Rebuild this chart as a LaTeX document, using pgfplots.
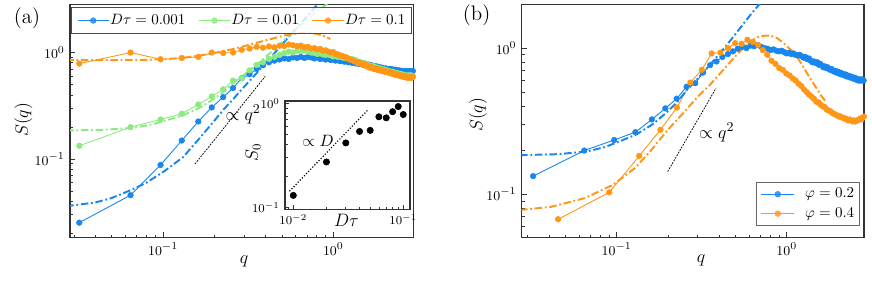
\documentclass[border=0pt]{standalone}
\usepackage{pgfplots}
\pgfplotsset{compat=1.18}
\usepackage{pgfplotstable}

\definecolor{cblue}{RGB}{24,134,238}
\definecolor{corange}{RGB}{255,150,22}
\definecolor{cgreen}{RGB}{140,234,128}

\tikzset{
  mydat/.style={color=#1, solid, line width=0.6pt, mark=*, mark size=1.9pt,
    mark options={solid, fill=#1, draw=#1, line width=0.3pt}},
  myfit/.style={color=#1, line width=1.3pt,
    dash pattern=on 5pt off 1.8pt on 1.2pt off 1.8pt},
  myguide/.style={black, line width=0.5pt, dash pattern=on 1.2pt off 0.8pt},
}

% phi = 0.2 data (Dtau = 0.001, 0.01, 0.1)
\pgfplotstableread{
q blue green orange
0.0322 0.0252 0.133 0.787
0.0644 0.0457 0.199 1.00
0.0966 0.0878 0.235 0.865
0.1288 0.149 0.266 0.889
0.1610 0.225 0.325 0.910
0.1932 0.305 0.387 1.00
0.2254 0.381 0.451 0.99
0.2576 0.464 0.544 1.00
0.2898 0.575 0.575 1.06
0.3220 0.625 0.68 1.09
0.3542 0.70 0.765 1.13
0.3864 0.76 0.81 1.11
0.4186 0.81 0.87 1.14
0.4508 0.84 0.91 1.12
0.4830 0.86 0.95 1.16
0.5152 0.88 0.99 1.15
0.5474 0.87 1.02 1.19
0.5796 0.90 1.00 1.17
0.6118 0.89 1.04 1.15
0.6440 0.91 1.03 1.16
0.6762 0.89 1.05 1.12
0.7084 0.91 1.02 1.13
0.7406 0.90 1.00 1.09
0.7728 0.88 0.99 1.10
0.8050 0.90 0.97 1.07
0.8372 0.87 0.98 1.08
0.8694 0.88 0.96 1.04
0.9016 0.86 0.95 1.05
0.9338 0.87 0.96 1.02
0.9660 0.85 0.94 1.00
0.9982 0.86 0.92 1.01
1.0304 0.84 0.93 0.97
1.0626 0.85 0.91 0.96
1.0948 0.83 0.92 0.94
1.1270 0.84 0.90 0.93
1.1592 0.82 0.89 0.91
1.1914 0.83 0.90 0.90
1.2236 0.81 0.88 0.87
1.2558 0.82 0.86 0.86
1.2880 0.80 0.87 0.85
1.3202 0.81 0.84 0.83
1.3524 0.79 0.85 0.82
1.3846 0.80 0.82 0.80
1.4168 0.78 0.80 0.81
1.4490 0.79 0.81 0.79
1.4812 0.77 0.79 0.77
1.5134 0.78 0.80 0.78
1.5456 0.77 0.77 0.75
1.5778 0.76 0.78 0.76
1.6100 0.77 0.76 0.73
1.6422 0.75 0.74 0.72
1.6744 0.76 0.75 0.73
1.7066 0.74 0.73 0.71
1.7388 0.75 0.74 0.70
1.7710 0.73 0.72 0.71
1.8032 0.74 0.71 0.69
1.8354 0.72 0.72 0.70
1.8676 0.73 0.70 0.68
1.8998 0.71 0.69 0.69
1.9320 0.72 0.70 0.67
1.9642 0.71 0.68 0.68
1.9964 0.70 0.69 0.66
2.0286 0.71 0.67 0.67
2.0608 0.70 0.68 0.66
2.0930 0.69 0.66 0.65
2.1252 0.70 0.67 0.66
2.1574 0.69 0.66 0.64
2.1896 0.70 0.65 0.65
2.2218 0.68 0.66 0.63
2.2540 0.69 0.64 0.64
2.2862 0.68 0.65 0.62
2.3184 0.69 0.64 0.63
2.3506 0.67 0.63 0.62
2.3828 0.68 0.64 0.61
2.4150 0.67 0.63 0.62
2.4472 0.68 0.62 0.61
2.4794 0.66 0.63 0.60
2.5116 0.67 0.62 0.61
2.5438 0.66 0.61 0.60
2.5760 0.67 0.62 0.59
2.6082 0.66 0.61 0.60
2.6404 0.67 0.60 0.59
2.6726 0.65 0.61 0.60
2.7048 0.66 0.60 0.58
2.7370 0.67 0.61 0.59
2.7692 0.66 0.60 0.58
2.8014 0.67 0.61 0.59
2.8336 0.66 0.60 0.58
2.8658 0.67 0.61 0.59
2.8980 0.66 0.60 0.58
2.9302 0.67 0.60 0.59
}\tabA

% phi = 0.4 data
\pgfplotstableread{
q S
0.0452 0.0674
0.0904 0.103
0.1356 0.183
0.1808 0.276
0.2260 0.392
0.2712 0.581
0.3164 0.71
0.3616 0.92
0.4068 0.93
0.4520 1.00
0.4972 1.08
0.5424 1.07
0.5876 1.14
0.6328 1.10
0.6780 1.05
0.7232 0.97
0.7684 0.90
0.8136 0.82
0.8588 0.78
0.9040 0.73
0.9492 0.71
0.9944 0.67
1.0396 0.65
1.0848 0.62
1.1300 0.60
1.1752 0.57
1.2204 0.55
1.2656 0.52
1.3108 0.50
1.3560 0.48
1.4012 0.465
1.4464 0.45
1.4916 0.43
1.5368 0.425
1.5820 0.41
1.6272 0.40
1.6724 0.395
1.7176 0.38
1.7628 0.375
1.8080 0.37
1.8532 0.36
1.8984 0.355
1.9436 0.35
1.9888 0.345
2.0340 0.34
2.0792 0.34
2.1244 0.335
2.1696 0.33
2.2148 0.33
2.2600 0.325
2.3052 0.32
2.3504 0.325
2.3956 0.32
2.4408 0.315
2.4860 0.32
2.5312 0.315
2.5764 0.32
2.6216 0.32
2.6668 0.325
2.7120 0.33
2.7572 0.325
2.8024 0.335
2.8476 0.34
}\tabB

% fits
\pgfplotstableread{
q S
0.027 0.036
0.040 0.039
0.050 0.043
0.0666 0.052
0.080 0.060
0.102 0.077
0.131 0.104
0.164 0.157
0.195 0.218
0.226 0.29
0.260 0.37
0.289 0.45
0.325 0.55
0.372 0.70
0.426 0.89
0.488 1.14
0.559 1.46
0.640 1.86
0.720 2.30
0.810 2.85
0.860 3.20
}\fitBlue

\pgfplotstableread{
q S
0.027 0.185
0.045 0.188
0.0666 0.196
0.085 0.21
0.102 0.228
0.131 0.257
0.164 0.303
0.195 0.36
0.226 0.425
0.260 0.52
0.289 0.59
0.325 0.69
0.354 0.77
0.400 0.91
0.450 1.07
0.500 1.25
0.560 1.48
0.620 1.72
0.700 2.03
0.800 2.42
0.930 2.90
0.970 3.05
}\fitGreen

\pgfplotstableread{
q S
0.027 0.85
0.050 0.85
0.080 0.855
0.100 0.865
0.130 0.89
0.165 0.94
0.200 0.99
0.259 1.08
0.300 1.15
0.350 1.23
0.407 1.31
0.460 1.38
0.520 1.45
0.580 1.50
0.650 1.53
0.720 1.53
0.800 1.50
0.880 1.43
0.960 1.34
}\fitOrange

\pgfplotstableread{
q S
0.027 0.078
0.0412 0.082
0.0648 0.094
0.095 0.116
0.128 0.151
0.160 0.201
0.200 0.276
0.251 0.368
0.300 0.466
0.353 0.56
0.424 0.71
0.508 0.90
0.608 1.11
0.697 1.21
0.797 1.22
0.880 1.17
0.960 1.08
1.050 0.98
1.145 0.88
1.230 0.77
1.310 0.68
1.400 0.60
1.500 0.53
1.600 0.47
1.700 0.43
}\fitOrangeB

\pgfplotstableread{
D S
0.01 0.131
0.02 0.274
0.03 0.417
0.04 0.537
0.05 0.55
0.06 0.742
0.07 0.725
0.08 0.83
0.09 0.93
0.10 0.78
}\tabInset

\begin{document}
\begin{tikzpicture}
\path[use as bounding box] (0pt,0pt) rectangle (581.33pt,186.67pt);

% ---------------- panel (a)
\begin{axis}[xmode=log, ymode=log, scale only axis, anchor=south west,
  axis line style={black!80, line width=0.9pt},
  tick align=inside, xtick pos=bottom, ytick pos=left,
  major tick length=3.5pt, minor tick length=2pt,
  tick style={black!80, line width=0.5pt},
  tick label style={font=\fontsize{9.5}{11}\selectfont},
  at={(46.67pt,28.2pt)}, width=228.9pt, height=155.6pt,
  xmin=0.0284, xmax=2.95, ymin=0.0182, ymax=2.84,
  xlabel={$q$}, ylabel={$S(q)$},
  xlabel style={font=\fontsize{13}{15}\selectfont, at={(axis description cs:0.507,-0.103)}, anchor=center},
  ylabel style={font=\fontsize{13}{15}\selectfont, at={(axis description cs:-0.136,0.505)}, anchor=center},
  legend columns=3,
  legend image code/.code={\draw[mark repeat=2,mark phase=2] plot coordinates {(0pt,0pt) (10.5pt,0pt) (21pt,0pt)};},
  legend style={at={(0.4996,0.988)}, anchor=north, draw=black!70, line width=0.6pt,
    fill=white, fill opacity=0.8, text opacity=1,
    font=\fontsize{10}{12}\selectfont,
    inner xsep=3.5pt, inner ysep=2.5pt,
    nodes={inner xsep=0.5pt, inner ysep=2pt},
    /tikz/every even column/.append style={column sep=8pt}},
]
\addplot[mydat=cblue] table[x=q,y=blue]{\tabA};
\addlegendentry{$D\tau = 0.001$}
\addplot[mydat=cgreen] table[x=q,y=green]{\tabA};
\addlegendentry{$D\tau = 0.01$}
\addplot[mydat=corange] table[x=q,y=orange]{\tabA};
\addlegendentry{$D\tau = 0.1$}
\addplot[myfit=cblue, forget plot] table[x=q,y=S]{\fitBlue};
\addplot[myfit=cgreen, forget plot] table[x=q,y=S]{\fitGreen};
\addplot[myfit=corange, forget plot] table[x=q,y=S]{\fitOrange};
\addplot[myguide, forget plot] coordinates {(0.154,0.0897) (0.398,0.597)};
\node[font=\fontsize{12.5}{14}\selectfont] at (axis cs:0.295,0.262) {$\propto q^2$};
\end{axis}

% ---------------- inset
\begin{axis}[xmode=log, ymode=log, scale only axis, anchor=south west,
  axis line style={black!80, line width=0.9pt},
  tick align=inside, xtick pos=bottom, ytick pos=left,
  major tick length=3pt, minor tick length=1.7pt,
  tick style={black!80, line width=0.5pt},
  tick label style={font=\fontsize{8.5}{10}\selectfont},
  at={(190pt,47pt)}, width=83.3pt, height=72.3pt,
  xmin=0.0084, xmax=0.115, ymin=0.096, ymax=1.05,
  axis background/.style={fill=white},
  xlabel={$D\tau$}, ylabel={$S_0$},
  xlabel style={font=\fontsize{11.5}{13}\selectfont, at={(axis description cs:0.492,-0.103)}, anchor=center},
  ylabel style={font=\fontsize{11.5}{13}\selectfont, at={(axis description cs:-0.256,0.525)}, anchor=center},
]
\addplot[black, line width=1.1pt, line cap=round, dash pattern=on 0pt off 2pt] coordinates {(0.0093,0.145) (0.0475,0.86)};
\addplot[only marks, mark=*, mark size=2.1pt, black] table[x=D,y=S]{\tabInset};
\node[font=\fontsize{11}{13}\selectfont] at (axis cs:0.0168,0.44) {$\propto D$};
\end{axis}

% ---------------- panel (b)
\begin{axis}[xmode=log, ymode=log, scale only axis, anchor=south west,
  axis line style={black!80, line width=0.9pt},
  tick align=inside, xtick pos=bottom, ytick pos=left,
  major tick length=3.5pt, minor tick length=2pt,
  tick style={black!80, line width=0.5pt},
  tick label style={font=\fontsize{9.5}{11}\selectfont},
  at={(347.8pt,28.2pt)}, width=228.2pt, height=155.5pt,
  xmin=0.0276, xmax=2.85, ymin=0.0504, ymax=1.99,
  xlabel={$q$}, ylabel={$S(q)$},
  xlabel style={font=\fontsize{13}{15}\selectfont, at={(axis description cs:0.524,-0.096)}, anchor=center},
  ylabel style={font=\fontsize{13}{15}\selectfont, at={(axis description cs:-0.128,0.527)}, anchor=center},
  legend image code/.code={\draw[mark repeat=2,mark phase=2] plot coordinates {(0pt,0pt) (11pt,0pt) (22pt,0pt)}; \path (28.5pt,0pt);},
  legend style={at={(0.988,0.05)}, anchor=south east, draw=black!60, line width=0.6pt,
    fill=white, fill opacity=0.8, text opacity=1,
    font=\fontsize{10}{12}\selectfont,
    inner xsep=3pt, inner ysep=2pt, row sep=1pt,
    nodes={inner xsep=0.5pt, inner ysep=2pt}},
]
\addplot[mydat=cblue] table[x=q,y=green]{\tabA};
\addlegendentry{$\varphi = 0.2$}
\addplot[mydat=corange] table[x=q,y=S]{\tabB};
\addlegendentry{$\varphi = 0.4$}
\addplot[myfit=cblue, forget plot] table[x=q,y=S]{\fitGreen};
\addplot[myfit=corange, forget plot] table[x=q,y=S]{\fitOrangeB};
\addplot[myguide, forget plot] coordinates {(0.1995,0.143) (0.384,0.532)};
\node[font=\fontsize{12.5}{14}\selectfont] at (axis cs:0.387,0.265) {$\propto q^2$};
\end{axis}

\node[font=\fontsize{14}{16}\selectfont] at (18pt,174.67pt) {(a)};
\node[font=\fontsize{14}{16}\selectfont] at (317.8pt,176.3pt) {(b)};
\end{tikzpicture}
\end{document}
